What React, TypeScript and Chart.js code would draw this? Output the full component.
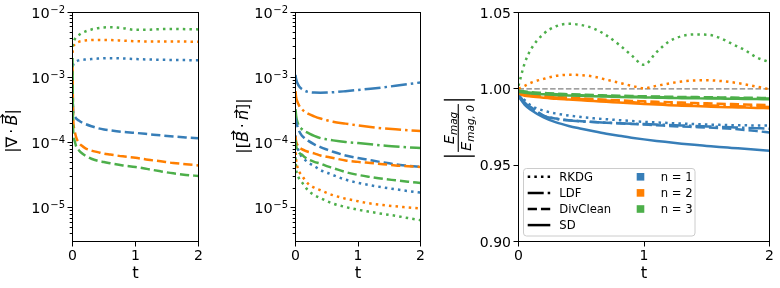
import React, { useEffect, useRef } from "react";
import { Chart, registerables } from "chart.js";

Chart.register(...registerables);

const FONT = '"DejaVu Sans", sans-serif';
const BLUE = "#377eb8";
const ORANGE = "#ff7f00";
const GREEN = "#4daf4a";
const REF_GRAY = "#808080";

// ---------------- data ----------------
const timesLog = [0, 0.01, 0.03, 0.06, 0.1, 0.15, 0.2, 0.3, 0.4, 0.5, 0.6, 0.8, 1.0, 1.2, 1.4, 1.6, 1.8, 2.0];
const timesEnergy = [0, 0.05, 0.1, 0.2, 0.3, 0.4, 0.5, 0.6, 0.7, 0.8, 0.9, 1.0, 1.1, 1.2, 1.3, 1.4, 1.5, 1.6, 1.7, 1.8, 1.9, 2.0];

const xTicks = [0, 1, 2];
const xTickLabels = ["0", "1", "2"];
const logTicks = [1e-5, 1e-4, 1e-3, 1e-2];
const logTickExponents = ["\u22125", "\u22124", "\u22123", "\u22122"];
const energyTicks = [0.9, 0.95, 1.0, 1.05];
const energyTickLabels = ["0.90", "0.95", "1.00", "1.05"];

const methodLabels = ["RKDG", "LDF", "DivClean", "SD"];
const orderLabels = ["n = 1", "n = 2", "n = 3"];

// panel 1: |div B|
const divB_RKDG_n1 = [1.2e-3, 1.55e-3, 1.7e-3, 1.78e-3, 1.84e-3, 1.88e-3, 1.9e-3, 1.93e-3, 1.96e-3, 1.98e-3, 1.99e-3, 1.97e-3, 1.93e-3, 1.9e-3, 1.88e-3, 1.87e-3, 1.86e-3, 1.85e-3];
const divB_RKDG_n2 = [2.4e-3, 2.95e-3, 3.2e-3, 3.4e-3, 3.55e-3, 3.65e-3, 3.72e-3, 3.78e-3, 3.8e-3, 3.8e-3, 3.78e-3, 3.7e-3, 3.62e-3, 3.6e-3, 3.6e-3, 3.6e-3, 3.58e-3, 3.55e-3];
const divB_RKDG_n3 = [3.0e-3, 3.4e-3, 3.8e-3, 4.2e-3, 4.5e-3, 4.85e-3, 5.1e-3, 5.5e-3, 5.75e-3, 5.9e-3, 5.95e-3, 5.75e-3, 5.42e-3, 5.45e-3, 5.55e-3, 5.6e-3, 5.55e-3, 5.5e-3];
const divB_DivClean_n1 = [1.0e-3, 3.2e-4, 2.6e-4, 2.35e-4, 2.2e-4, 2.05e-4, 1.95e-4, 1.8e-4, 1.68e-4, 1.6e-4, 1.55e-4, 1.47e-4, 1.42e-4, 1.36e-4, 1.3e-4, 1.25e-4, 1.21e-4, 1.18e-4];
const divB_DivClean_n2 = [1.5e-3, 2.6e-4, 1.6e-4, 1.2e-4, 1.0e-4, 9.0e-5, 8.3e-5, 7.6e-5, 7.2e-5, 6.8e-5, 6.6e-5, 6.2e-5, 5.9e-5, 5.5e-5, 5.2e-5, 4.9e-5, 4.7e-5, 4.5e-5];
const divB_DivClean_n3 = [2.0e-3, 1.6e-4, 1.1e-4, 8.7e-5, 7.7e-5, 6.9e-5, 6.4e-5, 5.7e-5, 5.3e-5, 5.07e-5, 4.85e-5, 4.5e-5, 4.26e-5, 3.95e-5, 3.65e-5, 3.4e-5, 3.22e-5, 3.1e-5];

// panel 2: |[B . n]|
const jump_RKDG_n1 = [1.3e-4, 1.0e-4, 8.5e-5, 7.2e-5, 6.1e-5, 5.5e-5, 5.0e-5, 4.4e-5, 3.8e-5, 3.5e-5, 3.2e-5, 2.72e-5, 2.43e-5, 2.23e-5, 2.07e-5, 1.94e-5, 1.82e-5, 1.72e-5];
const jump_RKDG_n2 = [9.0e-5, 5.5e-5, 4.3e-5, 3.6e-5, 3.16e-5, 2.7e-5, 2.37e-5, 2.05e-5, 1.87e-5, 1.7e-5, 1.57e-5, 1.39e-5, 1.27e-5, 1.17e-5, 1.11e-5, 1.06e-5, 1.02e-5, 9.8e-6];
const jump_RKDG_n3 = [6.0e-5, 4.0e-5, 3.3e-5, 2.8e-5, 2.5e-5, 2.15e-5, 1.87e-5, 1.58e-5, 1.42e-5, 1.28e-5, 1.17e-5, 1.035e-5, 9.4e-6, 8.7e-6, 8.1e-6, 7.6e-6, 7.0e-6, 6.5e-6];
const jump_LDF_n1 = [1.1e-3, 9.5e-4, 8.3e-4, 7.3e-4, 6.7e-4, 6.3e-4, 6.05e-4, 5.9e-4, 5.87e-4, 5.9e-4, 5.97e-4, 6.2e-4, 6.47e-4, 6.76e-4, 7.1e-4, 7.5e-4, 7.95e-4, 8.45e-4];
const jump_LDF_n2 = [6.2e-4, 5.0e-4, 4.3e-4, 3.7e-4, 3.3e-4, 3.0e-4, 2.8e-4, 2.55e-4, 2.36e-4, 2.22e-4, 2.11e-4, 1.97e-4, 1.85e-4, 1.75e-4, 1.67e-4, 1.61e-4, 1.56e-4, 1.52e-4];
const jump_LDF_n3 = [3.3e-4, 2.6e-4, 2.1e-4, 1.8e-4, 1.63e-4, 1.5e-4, 1.42e-4, 1.28e-4, 1.18e-4, 1.13e-4, 1.09e-4, 1.03e-4, 9.9e-5, 9.5e-5, 9.1e-5, 8.8e-5, 8.55e-5, 8.3e-5];
const jump_DivClean_n1 = [2.4e-4, 2.1e-4, 1.8e-4, 1.5e-4, 1.3e-4, 1.17e-4, 1.08e-4, 9.5e-5, 8.6e-5, 7.9e-5, 7.3e-5, 6.4e-5, 5.85e-5, 5.4e-5, 5.0e-5, 4.67e-5, 4.45e-5, 4.26e-5];
const jump_DivClean_n2 = [1.25e-4, 1.05e-4, 9.3e-5, 8.5e-5, 8.0e-5, 7.6e-5, 7.3e-5, 6.9e-5, 6.4e-5, 6.1e-5, 5.85e-5, 5.37e-5, 5.1e-5, 4.9e-5, 4.7e-5, 4.5e-5, 4.38e-5, 4.26e-5];
const jump_DivClean_n3 = [1.1e-4, 9.0e-5, 7.8e-5, 7.0e-5, 6.6e-5, 6.0e-5, 5.6e-5, 5.1e-5, 4.8e-5, 4.4e-5, 4.1e-5, 3.56e-5, 3.22e-5, 2.99e-5, 2.8e-5, 2.66e-5, 2.53e-5, 2.42e-5];

// panel 3: E_mag / E_mag,0
const energy_ref = [1.0, 1.0];
const energy_ref_t = [0, 2];
const energy_RKDG_n1 = [0.996, 0.9925, 0.989, 0.9857, 0.9838, 0.9825, 0.9815, 0.9807, 0.9801, 0.9795, 0.9789, 0.9784, 0.978, 0.9776, 0.9772, 0.9769, 0.9766, 0.9764, 0.9762, 0.9761, 0.976, 0.976];
const energy_RKDG_n2 = [1.0, 1.002, 1.004, 1.0065, 1.0085, 1.0092, 1.009, 1.008, 1.006, 1.004, 1.002, 1.0004, 1.002, 1.0035, 1.0048, 1.0055, 1.0056, 1.0052, 1.0043, 1.003, 1.0014, 0.9997];
const energy_RKDG_n3 = [1.002, 1.017, 1.026, 1.036, 1.041, 1.0426, 1.0418, 1.0395, 1.035, 1.029, 1.022, 1.0157, 1.024, 1.031, 1.0345, 1.0356, 1.0355, 1.0335, 1.0295, 1.0255, 1.0205, 1.0175];
const energy_LDF_n1 = [0.996, 0.991, 0.9875, 0.9823, 0.9803, 0.9793, 0.9787, 0.9782, 0.9778, 0.9775, 0.9772, 0.9769, 0.9766, 0.9763, 0.976, 0.9757, 0.9754, 0.9751, 0.9748, 0.9745, 0.9742, 0.9739];
const energy_LDF_n2 = [0.9975, 0.9962, 0.9957, 0.995, 0.9943, 0.9938, 0.9933, 0.9928, 0.9923, 0.9918, 0.9913, 0.9908, 0.9905, 0.9901, 0.9898, 0.9895, 0.9892, 0.9889, 0.9887, 0.9885, 0.9883, 0.9881];
const energy_LDF_n3 = [0.9984, 0.9979, 0.9974, 0.9969, 0.9964, 0.9961, 0.9958, 0.9955, 0.9953, 0.9951, 0.9949, 0.9947, 0.9946, 0.9944, 0.9943, 0.9942, 0.9941, 0.994, 0.9939, 0.9938, 0.9937, 0.9936];
const energy_DivClean_n1 = [0.996, 0.991, 0.988, 0.9825, 0.9805, 0.9795, 0.9788, 0.9783, 0.9778, 0.9774, 0.977, 0.9766, 0.9762, 0.9757, 0.9753, 0.975, 0.9747, 0.9743, 0.9738, 0.9731, 0.9723, 0.9714];
const energy_DivClean_n2 = [0.998, 0.9965, 0.996, 0.9953, 0.9947, 0.9942, 0.9938, 0.9933, 0.9929, 0.9925, 0.9921, 0.9918, 0.9915, 0.9912, 0.991, 0.9907, 0.9905, 0.9902, 0.99, 0.9897, 0.9895, 0.9893];
const energy_DivClean_n3 = [0.9988, 0.9983, 0.9978, 0.9973, 0.9968, 0.9965, 0.9962, 0.9959, 0.9957, 0.9955, 0.9953, 0.9951, 0.995, 0.9948, 0.9947, 0.9946, 0.9945, 0.9944, 0.9943, 0.9942, 0.9941, 0.994];
const energy_SD_n1 = [0.995, 0.9895, 0.9862, 0.9813, 0.978, 0.9757, 0.9739, 0.9722, 0.9706, 0.9692, 0.968, 0.9669, 0.9659, 0.965, 0.9641, 0.9633, 0.9626, 0.9619, 0.9613, 0.9607, 0.9601, 0.9595];
const energy_SD_n2 = [0.997, 0.9955, 0.995, 0.9942, 0.9935, 0.993, 0.9925, 0.992, 0.9915, 0.991, 0.9905, 0.99, 0.9897, 0.9893, 0.989, 0.9887, 0.9884, 0.9881, 0.9879, 0.9877, 0.9875, 0.9873];
const energy_SD_n3 = [0.998, 0.9975, 0.997, 0.9965, 0.996, 0.9957, 0.9954, 0.9951, 0.9949, 0.9947, 0.9945, 0.9943, 0.9942, 0.994, 0.9939, 0.9938, 0.9937, 0.9936, 0.9935, 0.9934, 0.9933, 0.9932];

// ---------------- styles ----------------
const LW = 2.5;
const DASH: Record<string, number[]> = {
  RKDG: [LW, LW * 1.65],
  LDF: [LW * 6.4, LW * 1.6, LW, LW * 1.6],
  DivClean: [LW * 3.7, LW * 1.6],
  SD: [],
};
const COLORS = [BLUE, ORANGE, GREEN];

function series(xs: number[], ys: number[], color: string, dash: number[], width = LW) {
  return {
    data: xs.map((x, i) => ({ x, y: ys[i] })),
    borderColor: color,
    backgroundColor: color,
    borderWidth: width,
    borderDash: dash,
    borderCapStyle: "butt",
    borderJoinStyle: "round",
    pointRadius: 0,
    pointHoverRadius: 0,
    fill: false,
    cubicInterpolationMode: "monotone",
  };
}

function withOrder(list: any[]) {
  return list.map((d, i) => ({ ...d, order: -i }));
}

// ---------------- drawing helpers ----------------
type Piece = { text: string; font: string; dy?: number; pre?: number; post?: number; vec?: number };

function drawVec(ctx: CanvasRenderingContext2D, x0: number, x1: number, y: number) {
  ctx.save();
  ctx.lineWidth = 1.1;
  ctx.strokeStyle = "#000";
  ctx.beginPath();
  ctx.moveTo(x0, y);
  ctx.lineTo(x1, y);
  ctx.moveTo(x1 - 2.8, y - 2.2);
  ctx.lineTo(x1, y);
  ctx.lineTo(x1 - 2.8, y + 2.2);
  ctx.stroke();
  ctx.restore();
}

function drawRotatedPieces(ctx: CanvasRenderingContext2D, cx: number, cy: number, pieces: Piece[]) {
  ctx.save();
  ctx.translate(cx, cy);
  ctx.rotate(-Math.PI / 2);
  ctx.textBaseline = "alphabetic";
  ctx.textAlign = "left";
  ctx.fillStyle = "#000";
  let total = 0;
  const widths = pieces.map((p) => {
    ctx.font = p.font;
    const w = ctx.measureText(p.text).width;
    total += (p.pre || 0) + w + (p.post || 0);
    return w;
  });
  let x = -total / 2;
  pieces.forEach((p, i) => {
    x += p.pre || 0;
    ctx.font = p.font;
    ctx.fillText(p.text, x, p.dy || 0);
    if (p.vec !== undefined) drawVec(ctx, x + widths[i] * 0.2, x + widths[i] * 1.0, p.vec);
    x += widths[i] + (p.post || 0);
  });
  ctx.restore();
}

function drawEnergyLabel(ctx: CanvasRenderingContext2D, cx: number, cy: number) {
  ctx.save();
  ctx.translate(cx, cy);
  ctx.rotate(-Math.PI / 2);
  ctx.fillStyle = "#000";
  ctx.textBaseline = "alphabetic";
  ctx.textAlign = "left";
  const big = `italic 14.5px ${FONT}`;
  const sub = `italic 10.5px ${FONT}`;
  ctx.font = big;
  const wE = ctx.measureText("E").width;
  ctx.font = sub;
  const wMag = ctx.measureText("mag").width;
  const wMag0 = ctx.measureText("mag, 0").width;
  const numW = wE + wMag;
  const denW = wE + wMag0;
  const fracW = Math.max(numW, denW) + 2;
  let x = -numW / 2;
  ctx.font = big;
  ctx.fillText("E", x, -4.6);
  ctx.font = sub;
  ctx.fillText("mag", x + wE, -1.6);
  x = -denW / 2;
  ctx.font = big;
  ctx.fillText("E", x, 12.4);
  ctx.font = sub;
  ctx.fillText("mag, 0", x + wE, 15.2);
  ctx.fillRect(-fracW / 2, -0.6, fracW, 1.1);
  const bx = fracW / 2 + 3.5;
  ctx.fillRect(-bx - 1.4, -14.5, 1.4, 31);
  ctx.fillRect(bx, -14.5, 1.4, 31);
  ctx.restore();
}

// ---------------- chart factory ----------------
type PanelSpec = {
  datasets: any[];
  log: boolean;
  yMin: number;
  yMax: number;
  axisLeft: number;
  padRight: number;
  drawLabel: (ctx: CanvasRenderingContext2D) => void;
  legend?: boolean;
};

const TOP = 12.5;
const X_AXIS_H = 288 - 241.5;

function makeConfig(spec: PanelSpec): any {
  const tickGrid = {
    display: true,
    drawOnChartArea: false,
    drawTicks: true,
    tickLength: 5,
    color: "#000",
    lineWidth: 1,
  };
  const overlay = {
    id: "overlay",
    afterDraw(chart: any) {
      const { ctx, chartArea: ca, scales } = chart;
      const xs = scales.x;
      const ys = scales.y;
      ctx.save();
      // frame
      ctx.strokeStyle = "#000";
      ctx.lineWidth = 1;
      ctx.strokeRect(ca.left, ca.top, ca.right - ca.left, ca.bottom - ca.top);
      ctx.fillStyle = "#000";
      ctx.textBaseline = "alphabetic";
      // x tick labels
      ctx.font = `14px ${FONT}`;
      ctx.textAlign = "center";
      xTicks.forEach((v, i) => {
        ctx.fillText(xTickLabels[i], xs.getPixelForValue(v), 259.6);
      });
      // x title
      ctx.font = `16.5px ${FONT}`;
      ctx.fillText("t", (ca.left + ca.right) / 2, 278.4);
      if (spec.log) {
        ctx.strokeStyle = "#000";
        ctx.lineWidth = 1;
        const e0 = Math.floor(Math.log10(spec.yMin));
        const e1 = Math.ceil(Math.log10(spec.yMax));
        ctx.beginPath();
        for (let e = e0; e <= e1; e++) {
          for (let k = 2; k <= 9; k++) {
            const v = k * Math.pow(10, e);
            if (v < spec.yMin || v > spec.yMax) continue;
            const py = Math.round(ys.getPixelForValue(v) - 0.5) + 0.5;
            ctx.moveTo(ca.left - 2.8, py);
            ctx.lineTo(ca.left, py);
          }
        }
        ctx.stroke();
        ctx.beginPath();
        logTicks.forEach((v) => {
          const py = Math.round(ys.getPixelForValue(v) - 0.5) + 0.5;
          ctx.moveTo(ca.left - 5, py);
          ctx.lineTo(ca.left, py);
        });
        ctx.stroke();
        logTicks.forEach((v, i) => {
          const py = ys.getPixelForValue(v);
          const big = `14.5px ${FONT}`;
          const small = `10px ${FONT}`;
          ctx.font = big;
          const w10 = ctx.measureText("10").width;
          ctx.font = small;
          const wExp = ctx.measureText(logTickExponents[i]).width;
          const right = ca.left - 7.5;
          const start = right - w10 - wExp - 0.5;
          ctx.textAlign = "left";
          ctx.font = big;
          ctx.fillText("10", start, py + 5.3);
          ctx.font = small;
          ctx.fillText(logTickExponents[i], start + w10 + 0.5, py + 0.3);
        });
      } else {
        ctx.font = `14px ${FONT}`;
        ctx.textAlign = "right";
        energyTicks.forEach((v, i) => {
          ctx.fillText(energyTickLabels[i], ca.left - 7.5, ys.getPixelForValue(v) + 5.1);
        });
      }
      spec.drawLabel(ctx);
      if (spec.legend) {
        const bx = 93.5, by = 168.5, bw = 171.5, bh = 67.5, r = 3;
        ctx.beginPath();
        ctx.moveTo(bx + r, by);
        ctx.lineTo(bx + bw - r, by);
        ctx.arcTo(bx + bw, by, bx + bw, by + r, r);
        ctx.lineTo(bx + bw, by + bh - r);
        ctx.arcTo(bx + bw, by + bh, bx + bw - r, by + bh, r);
        ctx.lineTo(bx + r, by + bh);
        ctx.arcTo(bx, by + bh, bx, by + bh - r, r);
        ctx.lineTo(bx, by + r);
        ctx.arcTo(bx, by, bx + r, by, r);
        ctx.closePath();
        ctx.fillStyle = "rgba(255,255,255,0.8)";
        ctx.fill();
        ctx.strokeStyle = "#cccccc";
        ctx.lineWidth = 1;
        ctx.stroke();
        const rows = [176.8, 192.9, 209.0, 225.1];
        ctx.font = `11.6px ${FONT}`;
        ctx.textAlign = "left";
        methodLabels.forEach((m, i) => {
          ctx.save();
          ctx.strokeStyle = "#000";
          ctx.lineWidth = LW;
          ctx.lineCap = "butt";
          ctx.setLineDash(DASH[m]);
          ctx.beginPath();
          ctx.moveTo(97.7, rows[i]);
          ctx.lineTo(120.3, rows[i]);
          ctx.stroke();
          ctx.restore();
          ctx.fillStyle = "#000";
          ctx.fillText(m, 129.3, rows[i] + 4.2);
        });
        orderLabels.forEach((lab, i) => {
          ctx.fillStyle = COLORS[i];
          ctx.fillRect(206.7, rows[i] - 3.8, 7.6, 7.6);
          ctx.fillStyle = "#000";
          ctx.fillText(lab, 230.7, rows[i] + 4.2);
        });
      }
      ctx.restore();
    },
  };

  return {
    type: "line",
    data: { datasets: spec.datasets },
    options: {
      animation: false,
      responsive: false,
      maintainAspectRatio: false,
      events: [],
      layout: { padding: { left: 0, top: TOP, right: spec.padRight, bottom: 0 } },
      plugins: { legend: { display: false }, tooltip: { enabled: false }, title: { display: false } },
      scales: {
        x: {
          type: "linear",
          min: 0,
          max: 2,
          afterBuildTicks: (s: any) => {
            s.ticks = xTicks.map((v) => ({ value: v }));
          },
          afterFit: (s: any) => {
            s.height = X_AXIS_H;
          },
          ticks: { display: false },
          grid: tickGrid,
          border: { display: false },
        },
        y: spec.log
          ? {
              type: "logarithmic",
              min: spec.yMin,
              max: spec.yMax,
              afterFit: (s: any) => {
                s.width = spec.axisLeft;
              },
              ticks: { display: false },
              grid: { display: false },
              border: { display: false },
            }
          : {
              type: "linear",
              min: spec.yMin,
              max: spec.yMax,
              afterBuildTicks: (s: any) => {
                s.ticks = energyTicks.map((v) => ({ value: v }));
              },
              afterFit: (s: any) => {
                s.width = spec.axisLeft;
              },
              ticks: { display: false },
              grid: tickGrid,
              border: { display: false },
            },
      },
    },
    plugins: [overlay],
  };
}

// ---------------- panels ----------------
const LOG_MIN = 3.06e-6;
const LOG_MAX = 1e-2;
const LABEL_FONT = `16px ${FONT}`;
const LABEL_IT = `italic 16px ${FONT}`;

function panel1(): PanelSpec {
  const ds = withOrder([
    series(timesLog, divB_RKDG_n1, BLUE, DASH.RKDG),
    series(timesLog, divB_RKDG_n2, ORANGE, DASH.RKDG),
    series(timesLog, divB_RKDG_n3, GREEN, DASH.RKDG),
    series(timesLog, divB_DivClean_n1, BLUE, DASH.DivClean),
    series(timesLog, divB_DivClean_n2, ORANGE, DASH.DivClean),
    series(timesLog, divB_DivClean_n3, GREEN, DASH.DivClean),
  ]);
  return {
    datasets: ds,
    log: true,
    yMin: LOG_MIN,
    yMax: LOG_MAX,
    axisLeft: 72.5,
    padRight: 215 - 198.5,
    drawLabel: (ctx) =>
      drawRotatedPieces(ctx, 17, 131, [
        { text: "|", font: LABEL_FONT },
        { text: "\u2207", font: LABEL_FONT, post: 3 },
        { text: "\u00b7", font: LABEL_FONT, post: 3 },
        { text: "B", font: LABEL_IT, vec: -14.5 },
        { text: "|", font: LABEL_FONT },
      ]),
  };
}

function panel2(): PanelSpec {
  const ds = withOrder([
    series(timesLog, jump_RKDG_n1, BLUE, DASH.RKDG),
    series(timesLog, jump_RKDG_n2, ORANGE, DASH.RKDG),
    series(timesLog, jump_RKDG_n3, GREEN, DASH.RKDG),
    series(timesLog, jump_LDF_n1, BLUE, DASH.LDF),
    series(timesLog, jump_LDF_n2, ORANGE, DASH.LDF),
    series(timesLog, jump_LDF_n3, GREEN, DASH.LDF),
    series(timesLog, jump_DivClean_n1, BLUE, DASH.DivClean),
    series(timesLog, jump_DivClean_n2, ORANGE, DASH.DivClean),
    series(timesLog, jump_DivClean_n3, GREEN, DASH.DivClean),
  ]);
  return {
    datasets: ds,
    log: true,
    yMin: LOG_MIN,
    yMax: LOG_MAX,
    axisLeft: 295.5 - 215,
    padRight: 430 - 420.5,
    drawLabel: (ctx) =>
      drawRotatedPieces(ctx, 248 - 215, 126, [
        { text: "|", font: LABEL_FONT },
        { text: "[", font: LABEL_FONT },
        { text: "B", font: LABEL_IT, vec: -14.5, post: 3 },
        { text: "\u00b7", font: LABEL_FONT, post: 3 },
        { text: "n", font: LABEL_IT, vec: -11.5 },
        { text: "]", font: LABEL_FONT },
        { text: "|", font: LABEL_FONT },
      ]),
  };
}

function panel3(): PanelSpec {
  const list: any[] = [series(energy_ref_t, energy_ref, REF_GRAY, [5.5, 2.4], 1.3)];
  const groups = [
    ["RKDG", [energy_RKDG_n1, energy_RKDG_n2, energy_RKDG_n3]],
    ["LDF", [energy_LDF_n1, energy_LDF_n2, energy_LDF_n3]],
    ["DivClean", [energy_DivClean_n1, energy_DivClean_n2, energy_DivClean_n3]],
    ["SD", [energy_SD_n1, energy_SD_n2, energy_SD_n3]],
  ] as [string, number[][]][];
  groups.forEach(([m, arrs]) => {
    arrs.forEach((a, i) => list.push(series(timesEnergy, a, COLORS[i], DASH[m])));
  });
  return {
    datasets: withOrder(list),
    log: false,
    yMin: 0.9,
    yMax: 1.05,
    axisLeft: 518.5 - 430,
    padRight: 350 - 339.5,
    drawLabel: (ctx) => drawEnergyLabel(ctx, 458.3 - 430, 128),
    legend: true,
  };
}

function Panel({ left, width, make }: { left: number; width: number; make: () => PanelSpec }) {
  const ref = useRef<HTMLCanvasElement | null>(null);
  useEffect(() => {
    if (!ref.current) return;
    const chart = new Chart(ref.current, makeConfig(make()));
    return () => chart.destroy();
  }, []);
  return (
    <canvas
      ref={ref}
      width={width}
      height={288}
      style={{ position: "absolute", left, top: 0, width, height: 288 }}
    />
  );
}

export default function App() {
  return (
    <div style={{ position: "absolute", left: 0, top: 0, width: 780, height: 288, background: "#fff" }}>
      <Panel left={0} width={215} make={panel1} />
      <Panel left={215} width={215} make={panel2} />
      <Panel left={430} width={350} make={panel3} />
    </div>
  );
}
